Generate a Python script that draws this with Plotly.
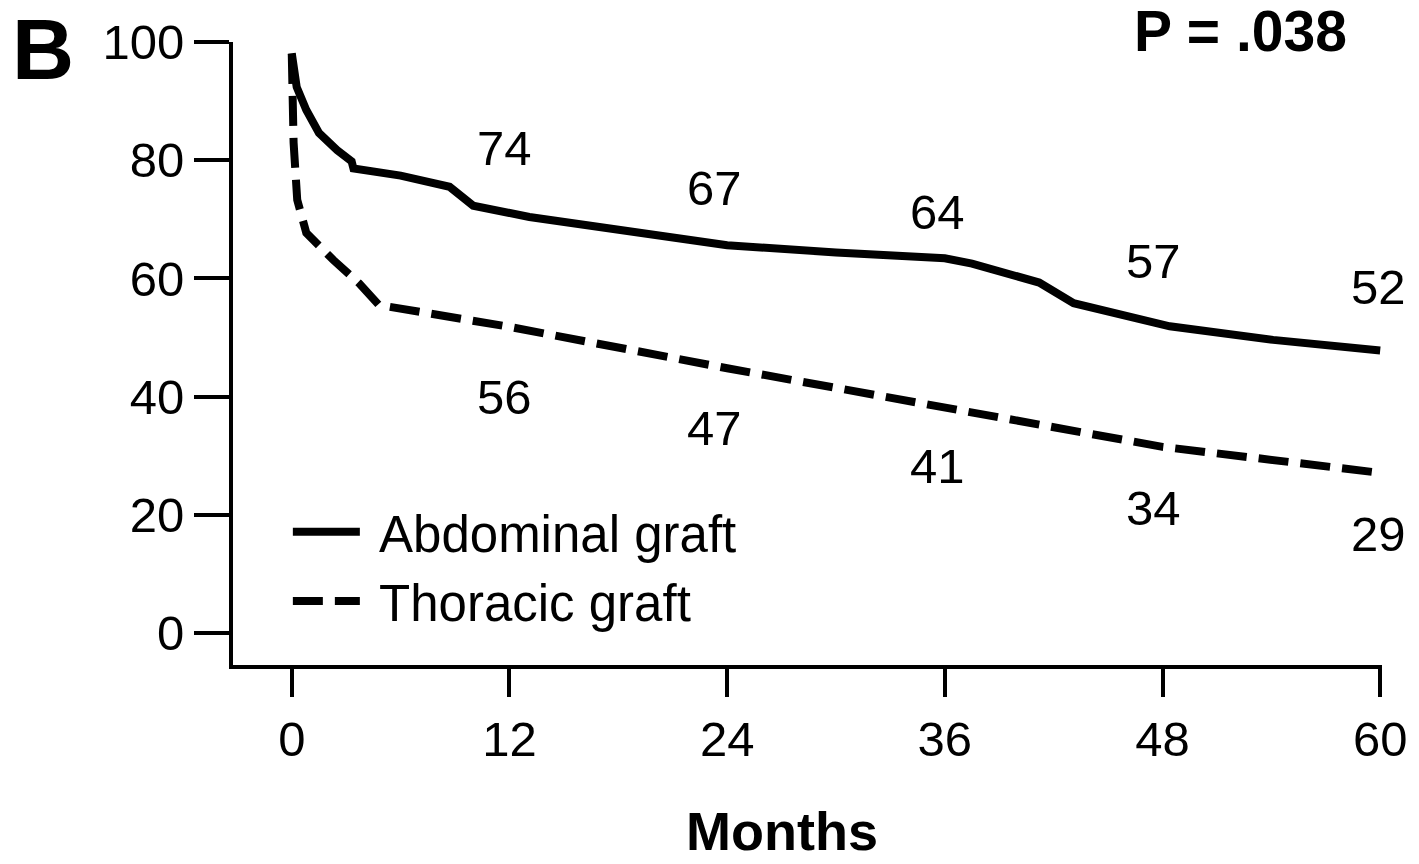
import plotly.graph_objects as go

# ---- data ----
abd_months = [0, 0.27, 0.8, 1.5, 2.5, 3.3, 3.4, 6.0, 8.7, 10.0, 13.1, 18.6, 24, 30, 36, 37.5, 41.2, 43.1, 48.4, 54.1, 60]
abd_surv = [98.1, 92.4, 88.5, 84.6, 81.7, 79.8, 78.6, 77.4, 75.5, 72.3, 70.4, 67.9, 65.6, 64.4, 63.4, 62.5, 59.3, 55.8, 51.9, 49.6, 47.8]

tho_months = [0, 0.05, 0.1, 0.3, 0.8, 2.3, 3.7, 4.8, 12, 24, 36, 48, 60]
tho_surv = [98.0, 90.0, 83.0, 73.3, 67.7, 63.1, 59.2, 55.5, 51.8, 44.8, 38.0, 31.5, 27.1]

label_months = [12, 24, 36, 48, 60]
abd_labels = ["74", "67", "64", "57", "52"]
abd_label_y = [82.1, 75.3, 71.2, 62.9, 58.5]
tho_labels = ["56", "47", "41", "34", "29"]
tho_label_y = [39.9, 34.7, 28.3, 21.2, 16.8]
label_dx = [-0.3, -0.7, -0.4, -0.5, -0.1]

x_ticks = [0, 12, 24, 36, 48, 60]
y_ticks = [0, 20, 40, 60, 80, 100]

FONT = "Liberation Sans, Arial, sans-serif"
NB = "\u00a0"

fig = go.Figure()
fig.add_trace(go.Scatter(x=abd_months, y=abd_surv, mode="lines", name=NB + "Abdominal graft",
                         line=dict(color="black", width=8)))
fig.add_trace(go.Scatter(x=tho_months, y=tho_surv, mode="lines", name=NB + "Thoracic graft",
                         line=dict(color="black", width=8, dash="30px,12px")))

for m, t, y, dx in zip(label_months, abd_labels, abd_label_y, label_dx):
    fig.add_annotation(x=m + dx, y=y, xref="x", yref="y", text=t, showarrow=False,
                       font=dict(size=49, color="black", family=FONT))
for m, t, y, dx in zip(label_months, tho_labels, tho_label_y, label_dx):
    fig.add_annotation(x=m + dx, y=y, xref="x", yref="y", text=t, showarrow=False,
                       font=dict(size=49, color="black", family=FONT))

PW, PH, L, T = 1152, 623, 233, 42

def px(xp):
    return (xp - L) / PW

def py(yp):
    return (T + PH - yp) / PH

fig.add_annotation(x=px(43), y=py(49), xref="paper", yref="paper",
                   text="<b>B</b>", showarrow=False, xanchor="center", yanchor="middle",
                   font=dict(size=86, color="black", family=FONT))
fig.add_annotation(x=px(1243), y=py(31), xref="paper", yref="paper",
                   text="<b>P = .038</b>", showarrow=False, xanchor="center", yanchor="middle",
                   font=dict(size=57, color="black", family=FONT))
fig.add_annotation(x=px(783), y=py(862), xref="paper", yref="paper",
                   text="<b>Months</b>", showarrow=False, xanchor="center", yanchor="bottom",
                   borderpad=0, font=dict(size=54, color="black", family=FONT))

fig.update_layout(
    width=1419, height=864,
    margin=dict(l=L, r=34, t=T, b=199),
    paper_bgcolor="white", plot_bgcolor="white",
    font=dict(family=FONT, color="black", size=48),
    showlegend=True,
    legend=dict(x=px(288), y=py(492), xanchor="left", yanchor="top",
                bgcolor="rgba(0,0,0,0)", font=dict(size=51, family=FONT, color="black"),
                itemwidth=67, tracegroupgap=0),
    xaxis=dict(range=[-3.24, 60.1], tickvals=x_ticks, ticktext=[str(v) for v in x_ticks],
               showgrid=False, zeroline=False, showline=True, linecolor="black", linewidth=4,
               ticks="outside", ticklen=28, tickwidth=4, tickcolor="black",
               tickfont=dict(size=49, family=FONT, color="black")),
    yaxis=dict(range=[-5.41, 100], tickvals=y_ticks, ticktext=[str(v) for v in y_ticks],
               showgrid=False, zeroline=False, showline=True, linecolor="black", linewidth=4,
               ticks="outside", ticklen=35, tickwidth=4, tickcolor="black",
               tickfont=dict(size=49, family=FONT, color="black")),
)

fig.write_html("out.html")
